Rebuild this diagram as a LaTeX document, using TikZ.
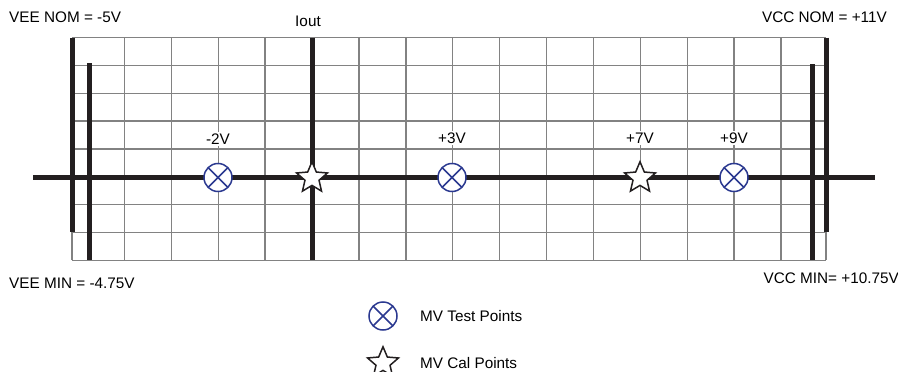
\documentclass[tikz,border=0pt]{standalone}
\usepackage{fontspec}
\setmainfont{Liberation Sans}
\usetikzlibrary{positioning, shapes.geometric}
\definecolor{gridgray}{RGB}{130,130,130}
\definecolor{railblack}{RGB}{35,31,32}
\definecolor{testblue}{RGB}{43,57,144}

\begin{document}
\begin{tikzpicture}[
            x=1pt, y=-1pt,
            every node/.style = {
                font=\fontsize{15.3}{18}\selectfont,
                inner sep=0pt
            },
            gridline/.style = {draw=gridgray, line width=1.4pt},
            rail/.style = {draw=railblack, line width=5pt},
            testpt/.style = {
                circle, draw=testblue, line width=1.5pt, fill=white,
                minimum size=28pt,
                path picture={
                    \draw[testblue, line width=1.5pt]
                        (path picture bounding box.north west) -- (path picture bounding box.south east)
                        (path picture bounding box.south west) -- (path picture bounding box.north east);
                }
            },
            calpt/.style = {
                star, star points=5, star point ratio=2.2,
                draw=railblack, line width=1.5pt, fill=white,
                minimum size=32.5pt
            },
            volt/.style = {fill=white, inner sep=1.5pt}
        ]
        \useasboundingbox (0,0) rectangle (898,372);

        \foreach \r in {0,...,8}
            \draw[gridline] (72,{37.5+27.85*\r}) -- (826,{37.5+27.85*\r});
        \foreach \v in {-4,...,10}
            \draw[gridline] ({312+46.9*\v},37.5) -- ({312+46.9*\v},260.3);
        \draw[gridline] (72,37.5) -- (72,260.3);
        \draw[gridline] (826,37.5) -- (826,260.3);

        \draw[rail] (33,177.5) -- (875,177.5);
        \draw[rail] (72,37.5) -- (72,232);
        \draw[rail] (89,63) -- (89,260.3);
        \draw[rail] (312,37.5) -- (312,260.3);
        \draw[rail] (812,64) -- (812,260.3);
        \draw[rail] (826,37.5) -- (826,232);

        \node[testpt] (tm2) at (218,177.5) {};
        \node[calpt]  (c0)  at (312,178) {};
        \node[testpt] (tp3) at (452,177.5) {};
        \node[calpt]  (cp7) at (640,178) {};
        \node[testpt] (tp9) at (734,177.5) {};

        \node[volt] (lm2) at (218,139) {-2V};
        \node[volt] (lp3) at (452,138) {+3V};
        \node[volt] (lp7) at (640,138) {+7V};
        \node[volt] (lp9) at (734,138) {+9V};

        \node (iout) at (308,21) {Iout};
        \node[anchor=west] (veenom) at (9,17) {VEE NOM = -5V};
        \node[anchor=east] (vccnom) at (887,17) {VCC NOM = +11V};
        \node[anchor=west] (veemin) at (9,283) {VEE MIN = -4.75V};
        \node[anchor=east] (vccmin) at (899,278) {VCC MIN= +10.75V};

        \node[testpt] (keytest) at (383,316) {};
        \node[calpt]  (keycal)  at (383,363) {};
        \node[right=37pt of keytest.center] {MV Test Points};
        \node[right=37pt of keycal.center] {MV Cal Points};
\end{tikzpicture}
\end{document}
